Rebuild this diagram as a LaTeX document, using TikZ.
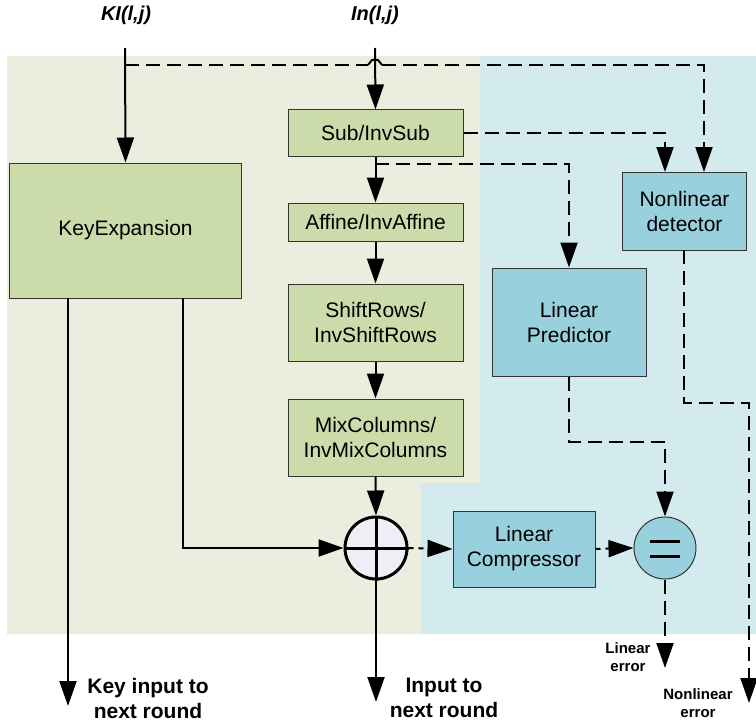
\documentclass[tikz,border=0pt]{standalone}
\usepackage{fontspec}
\setmainfont{Liberation Sans}
\usetikzlibrary{arrows.meta}
\definecolor{bggreen}{HTML}{EBEEDF}
\definecolor{bgblue}{HTML}{D3EAEF}
\definecolor{boxgreen}{HTML}{CCDBAA}
\definecolor{boxblue}{HTML}{99D0DE}
\definecolor{xorfill}{HTML}{EFEDF5}
\definecolor{edge}{HTML}{333333}
\tikzset{
  gbox/.style={draw=edge, line width=1pt, fill=boxgreen, align=center, inner sep=0pt,
    font=\fontsize{21}{25}\selectfont},
  bbox/.style={draw=edge, line width=1pt, fill=boxblue, align=center, inner sep=0pt,
    font=\fontsize{21}{25}\selectfont},
  arr/.style={line width=2pt, -{Triangle[length=25pt,width=17pt]}},
  plain/.style={line width=2pt},
  darr/.style={line width=2pt, dash pattern=on 14pt off 7pt, -{Triangle[length=25pt,width=17pt]}},
  dline/.style={line width=2pt, dash pattern=on 14pt off 7pt},
  sdarr/.style={line width=2pt, dash pattern=on 5pt off 5pt, -{Triangle[length=25pt,width=17pt]}},
  toplbl/.style={font=\fontsize{20}{24}\selectfont\bfseries\itshape, inner sep=0pt},
  botlbl/.style={font=\fontsize{21}{25}\selectfont\bfseries, align=center, inner sep=0pt},
  smlbl/.style={font=\fontsize{15}{18}\selectfont\bfseries, align=center, inner sep=0pt},
}
\begin{document}
\begin{tikzpicture}[x=1pt,y=-1pt]
\useasboundingbox (0,0) rectangle (756,725);
% backgrounds
\fill[bggreen] (7,56) -- (480,56) -- (480,483) -- (421,483) -- (421,634) -- (7,634) -- cycle;
\fill[bgblue] (480,56) -- (756,56) -- (756,634) -- (421,634) -- (421,483) -- (480,483) -- cycle;

% labels at top
\node[toplbl] (kil) at (126,15) {KI(l,j)};
\node[toplbl] (inl) at (375,15) {In(l,j)};

% boxes
\node[gbox, minimum width=232pt, minimum height=135pt] (ke) at (125.5,230.5) {KeyExpansion};
\node[gbox, minimum width=175pt, minimum height=46pt] (sub) at (375.5,133) {Sub/InvSub};
\node[gbox, minimum width=175pt, minimum height=38pt] (aff) at (375.5,222) {Affine/InvAffine};
\node[gbox, minimum width=175pt, minimum height=77pt] (shift) at (375.5,322.5) {ShiftRows/\\InvShiftRows};
\node[gbox, minimum width=175pt, minimum height=77pt] (mix) at (375.5,437.5) {MixColumns/\\InvMixColumns};
\node[bbox, minimum width=124pt, minimum height=78pt] (nld) at (684.5,211) {Nonlinear\\detector};
\node[bbox, minimum width=154pt, minimum height=108pt] (lp) at (569,322) {Linear\\Predictor};
\node[bbox, minimum width=142pt, minimum height=76pt] (lc) at (524,549) {Linear\\Compressor};

% xor circle
\node[circle, draw=black, line width=3pt, fill=xorfill, minimum size=62pt, inner sep=0pt] (xor) at (376,548) {};
\draw[line width=3pt] (xor.north) -- (xor.south) (xor.west) -- (xor.east);
% equal circle
\node[circle, draw=edge, line width=1pt, fill=boxblue, minimum size=62pt, inner sep=0pt] (eq) at (665,548) {};
\draw[line width=3pt] ([xshift=-15pt,yshift=7pt]eq.center) -- ([xshift=15pt,yshift=7pt]eq.center)
  ([xshift=-15pt,yshift=-8pt]eq.center) -- ([xshift=15pt,yshift=-8pt]eq.center);

% coordinates
\coordinate (kistart) at (125,48);
\coordinate (instart) at (375,48);
\coordinate (kibr) at (125,65);
\coordinate (inbr) at (375,164);
\coordinate (keo1) at (68,706);
\coordinate (xoro) at (376,702);
\coordinate (lerr) at (665,668);
\coordinate (nerr) at (749,703);

% solid arrows
\draw[arr] (kistart) -- (ke.north);
\draw[arr] (instart) -- (sub.north);
\draw[arr] (sub.south) -- (aff.north);
\draw[arr] (aff.south) -- (shift.north);
\draw[arr] (shift.south) -- (mix.north);
\draw[arr] (mix.south) -- (xor.north);
\draw[arr] (68,298) -- (keo1);
\draw[arr] (183,298) -- (183,548) -- (xor.west);
\draw[arr] (xor.south) -- (xoro);

% dashed connectors
\draw[dline] (kibr) -- (368,65);
\draw[line width=2pt] (368,65) -- (372,60) -- (375,60);
\draw[line width=2pt] (375,60) -- (378,60) -- (382,65);
\draw[darr] (382,65) -- (704,65) -- (704,172);
\draw[darr] (sub.east) -- (665,133) -- (665,172);
\draw[darr] (inbr) -- (569,164) -- (lp.north);
\draw[darr] (lp.south) -- (569,442) -- (665,442) -- (eq.north);
\draw[darr] (684,250) -- (684,403) -- (749,403) -- (nerr);
\draw[darr] (eq.south) -- (lerr);
\draw[sdarr] (xor.east) -- (lc.west);
\draw[sdarr] (lc.east) -- (eq.west);

% bottom labels
\node[botlbl] (kin) at (148,698) {Key input to\\next round};
\node[botlbl] (inn) at (444,698) {Input to\\next round};
\node[smlbl] (le) at (628,657) {Linear\\error};
\node[smlbl] (ne) at (698,703) {Nonlinear\\error};
\end{tikzpicture}
\end{document}
